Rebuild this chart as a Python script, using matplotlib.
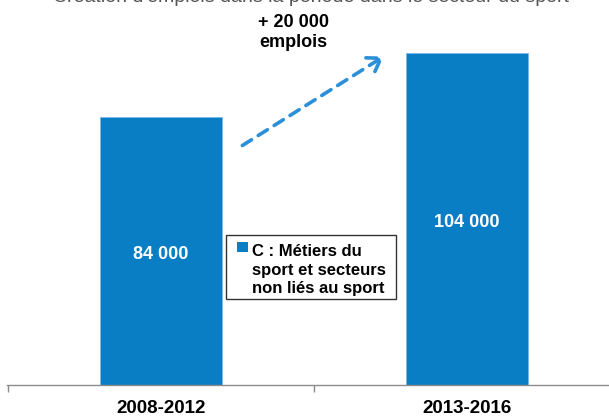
import matplotlib
matplotlib.use("Agg")
import matplotlib.pyplot as plt
from matplotlib.patches import Rectangle, FancyArrowPatch

plt.rcParams['font.family'] = ['Liberation Sans', 'DejaVu Sans']

categories = ["2008-2012", "2013-2016"]
values = [84000, 104000]
value_labels = ["84 000", "104 000"]
legend_lines = ["C : Métiers du", "sport et secteurs", "non liés au sport"]
delta_lines = ["+ 20 000", "emplois"]
title = "Création d'emplois dans la période dans le secteur du sport"

W, H = 609, 417
fig = plt.figure(figsize=(W / 100, H / 100), dpi=100)

def fx(px):
    return px / W

def fy(py):
    return 1 - py / H

bar_color = "#0a7ec4"
arrow_color = "#2b90d8"

ax = fig.add_axes([fx(7), fy(385), fx(602), 385 / H])
x = list(range(len(categories)))
ax.bar(x, values, width=0.399, color=bar_color, edgecolor="#7fb8e6", linewidth=0.6)

for xi, v, lab in zip(x, values, value_labels):
    ax.annotate(lab, (xi, v * 0.5), xytext=(0, -2.5), textcoords="offset points",
                ha="center", va="center", color="white", fontsize=13, fontweight="bold")

for s in ["top", "right", "left"]:
    ax.spines[s].set_visible(False)
ax.spines["bottom"].set_color("#8c8c8c")
ax.spines["bottom"].set_linewidth(1.0)
ax.set_yticks([])
ax.set_xticks(x)
ax.set_xticklabels(categories, fontsize=13.5, fontweight="bold")
ax.tick_params(axis="x", which="major", length=0, pad=11)
ax.set_xticks([-0.5, 0.5, 1.5], minor=True)
ax.tick_params(axis="x", which="minor", length=5, color="#8c8c8c", width=1.0, direction="out")
ax.set_xlim(-154 / 306, -154 / 306 + 602 / 306)
ax.set_ylim(0, 385 * 84000 / 268)

# title (cropped at top, as in the reference)
fig.text(0.51, fy(2.5), title, ha="center", va="baseline", fontsize=14, color="#555555")

# delta annotation
for i, line in enumerate(delta_lines):
    fig.text(fx(293), fy(27 + 20 * i), line, ha="center", va="baseline", fontsize=13,
             fontweight="bold")
fig.patches.append(FancyArrowPatch(
    (fx(240), fy(147)), (fx(386), fy(55)), transform=fig.transFigure,
    arrowstyle="->,head_length=6,head_width=4", mutation_scale=1.5,
    color=arrow_color, linewidth=2.6, linestyle=(0, (3, 2.2))))

# legend box
fig.patches.append(Rectangle((fx(226), fy(299)), fx(170), (299 - 235) / H,
                             transform=fig.transFigure, facecolor="white",
                             edgecolor="#333333", linewidth=1.0))
fig.patches.append(Rectangle((fx(237), fy(252)), fx(11), 10 / H,
                             transform=fig.transFigure, facecolor=bar_color,
                             edgecolor="none"))
for i, line in enumerate(legend_lines):
    fig.text(fx(252), fy(256 + 18.5 * i), line, ha="left", va="baseline", fontsize=12,
             fontweight="bold")

fig.savefig("out.png", dpi=100)
